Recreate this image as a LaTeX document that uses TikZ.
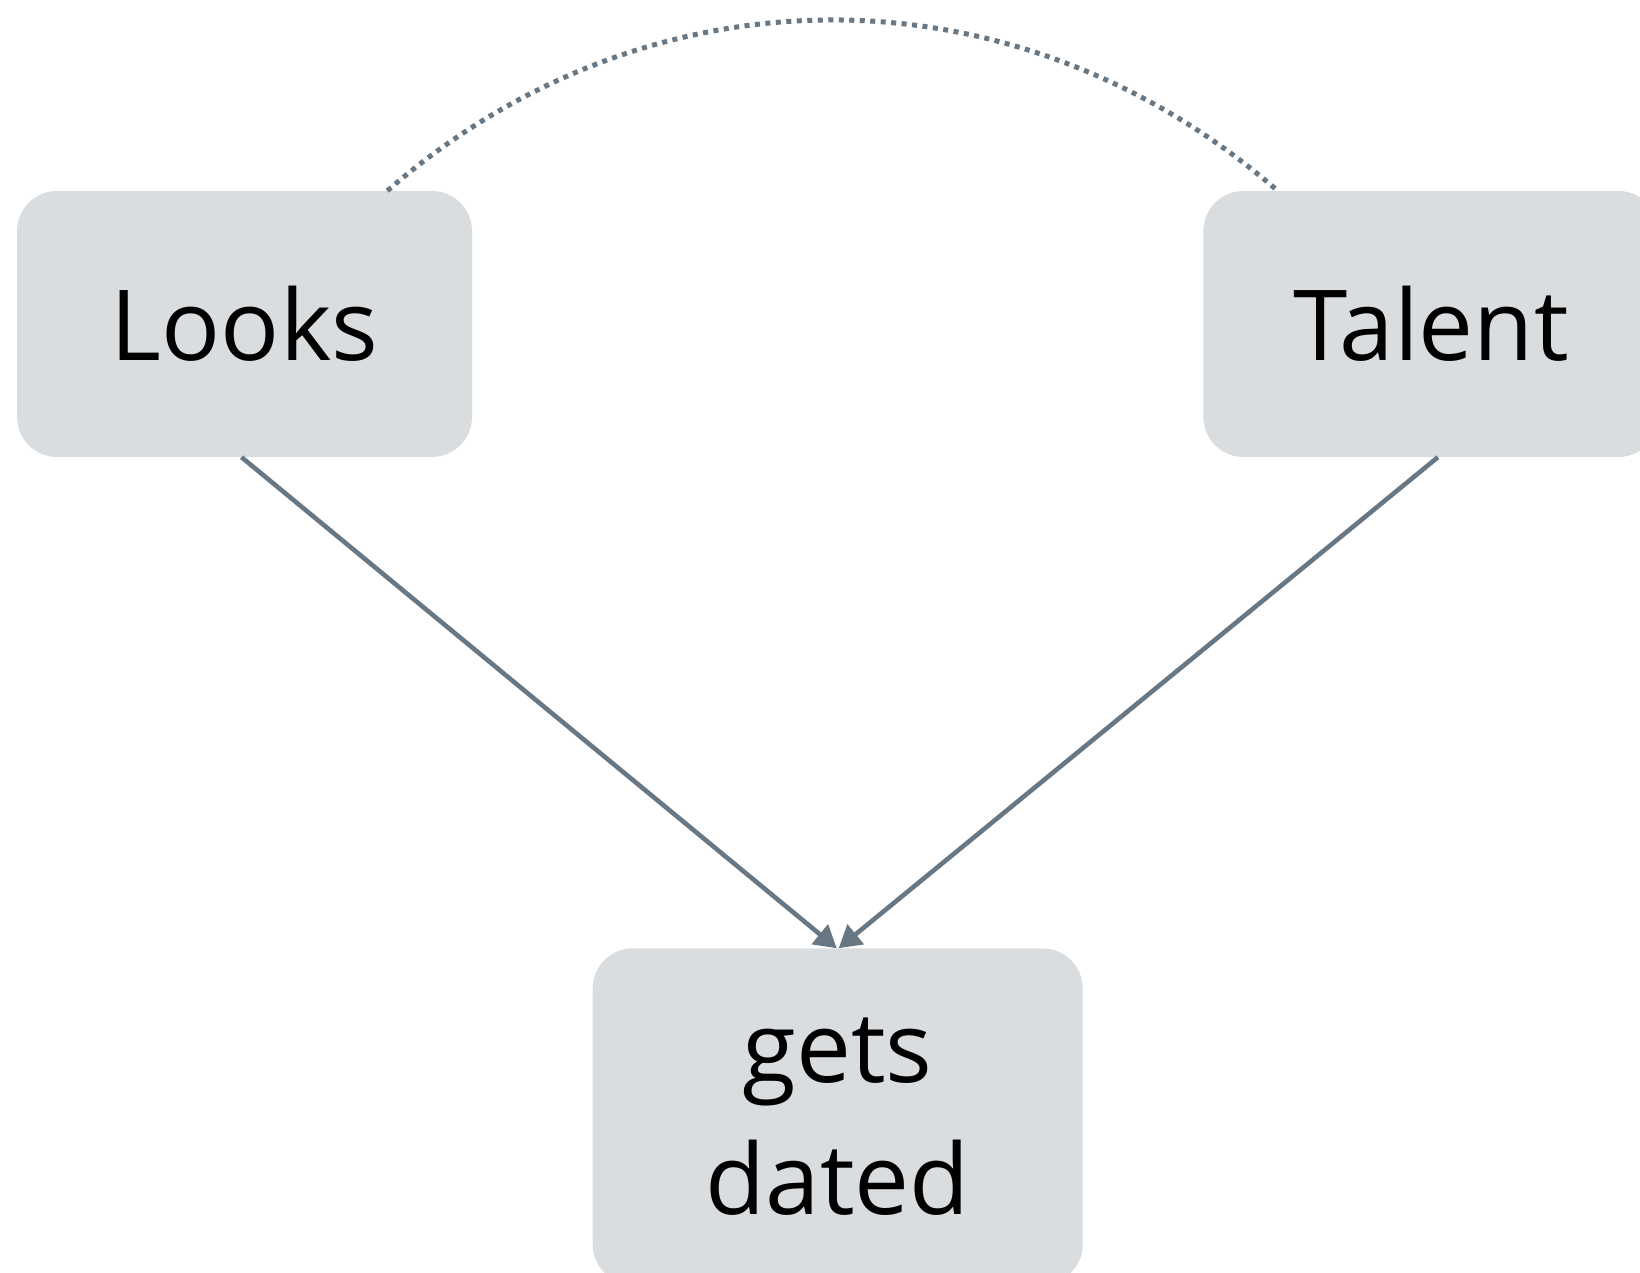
\documentclass[tikz,border=0pt]{standalone}
\usepackage{fontspec}
\setmainfont{Open Sans}
\usepackage{tikz}
\usetikzlibrary{arrows.meta,positioning,calc}
\definecolor{boxgray}{RGB}{218,221,224}
\definecolor{linkgray}{RGB}{104,119,132}

\begin{document}
\begin{tikzpicture}[>={Triangle[length=22pt,width=25pt]}, x=1pt, y=1pt,
    factor/.style={fill=boxgray, rounded corners=40pt, minimum width=455pt, minimum height=266pt, font=\fontsize{98}{132}\selectfont},
    link/.style={draw=linkgray, line width=4.6pt}]
        \clip (0,0) rectangle (1640,1273);
        \node[factor] (looks) at (244.5,949) {Looks};
        \node[factor, right=731pt of looks] (talent) {Talent};
        \coordinate (mid) at ($(looks.south)!0.5!(talent.south)$);
        \node[factor, below=491pt of mid, minimum width=490pt, minimum height=336pt, align=center] (dated) {gets\\dated};
        \draw[link, ->] ([xshift=-3pt]looks.south) -- ([xshift=-1pt]dated.north);
        \draw[link, ->] ([xshift=7pt]talent.south) -- ([xshift=1pt]dated.north);
        % dotted link between the two causes
        \draw[link, line width=5pt, dash pattern=on 5pt off 5.5pt] (looks.43) to[bend left=41] (talent.139);
      \end{tikzpicture}
\end{document}
